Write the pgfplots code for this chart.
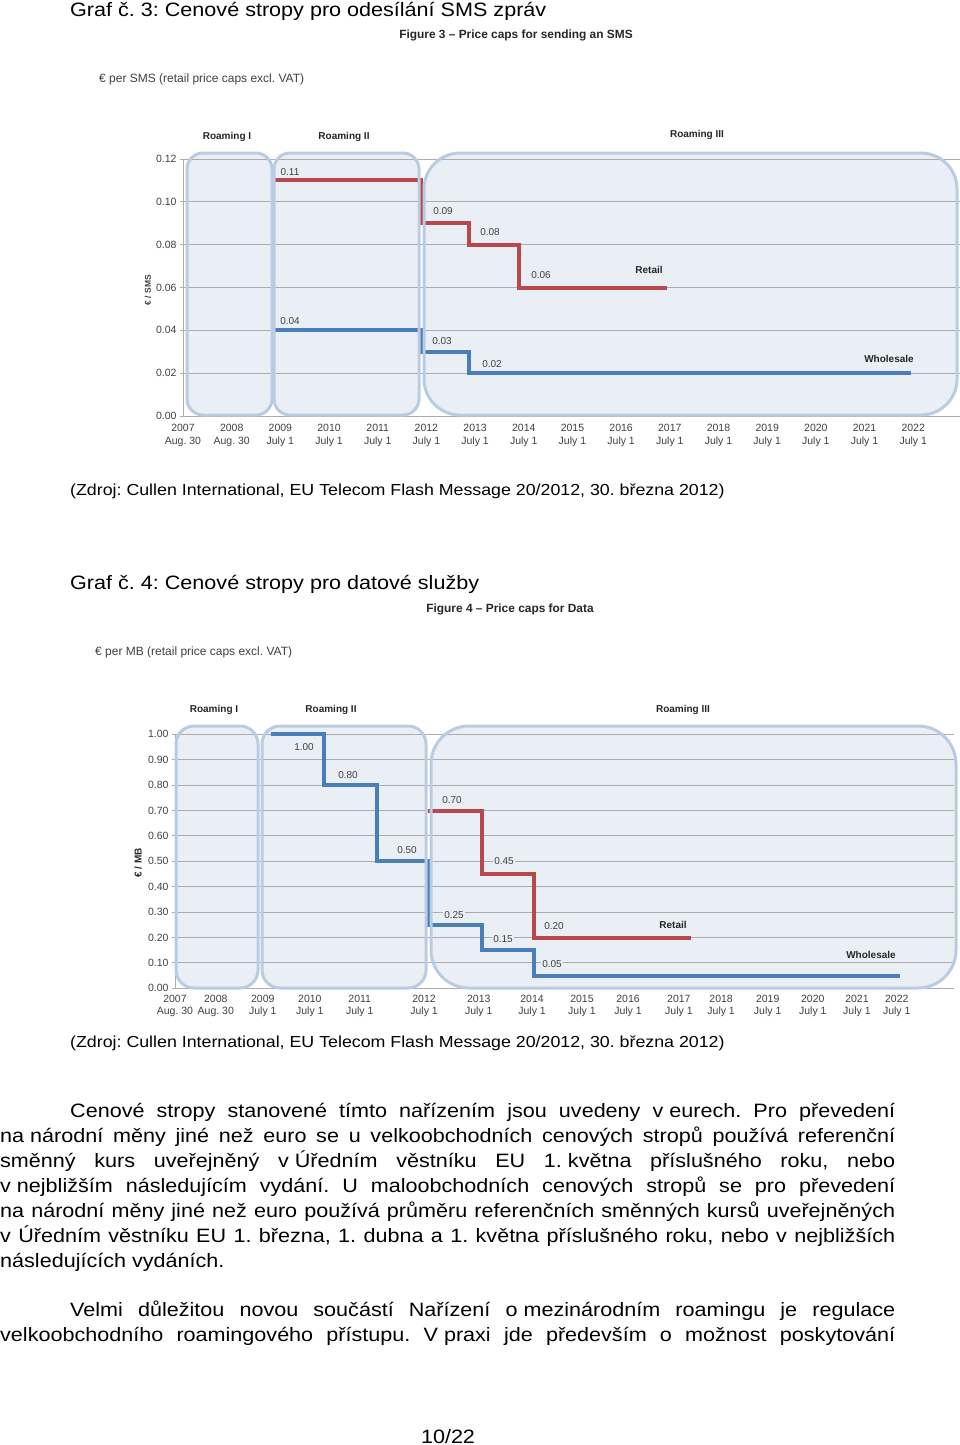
\documentclass[border=0pt]{standalone}
\usepackage{fontspec}
\setmainfont{Liberation Sans}
\newfontfamily\wide[FakeStretch=1.115]{Liberation Sans}
\usepackage{pgfplots}
\pgfplotsset{compat=1.18}
\frenchspacing
\definecolor{boxfill}{RGB}{234,239,246}
\definecolor{boxline}{RGB}{186,204,226}
\definecolor{retail}{RGB}{184,72,78}
\definecolor{whole}{RGB}{74,126,187}
\definecolor{gridc}{RGB}{172,172,172}
\definecolor{lbl}{RGB}{64,64,64}
\newcommand\fs[1]{\fontsize{#1}{#1}\selectfont}
\newcommand\body{\fontsize{19.35}{25}\selectfont}
\newcommand\jl[2]{\makebox[#1][s]{\wide #2}}
\pgfplotsset{capstyle/.style={scale only axis, anchor=south west, axis line style={draw=none},
  ymajorgrids, grid style={gridc, line width=1pt}, tick align=outside, major tick length=3pt,
  ytick style={gridc, line width=1pt}, xtick style={draw=none},
  yticklabel style={font=\fs{10.5}, text=lbl},
  xticklabel style={font=\fontsize{10.5}{12.5}\selectfont, align=center, text=lbl},
  clip=false, ymin=0}}
\tikzset{dl/.style={font=\fs{10}, text=lbl, inner sep=1pt, fill=boxfill},
  hd/.style={font=\bfseries\fs{10}, text=black!85, inner sep=0, anchor=base}}
\begin{document}
\begin{tikzpicture}[x=1pt,y=-1pt]
\useasboundingbox (0,0) rectangle (960,1445);
% ---------------- Chart 3 -----------------
\node[anchor=base west, inner sep=0, font=\wide\body] at (70,17) {Graf č. 3: Cenové stropy pro odesílání SMS zpráv};
\node[anchor=base, inner sep=0, font=\bfseries\fs{11.9}, text=black!85] at (516,39) {Figure 3 – Price caps for sending an SMS};
\node[anchor=base west, inner sep=0, font=\fs{12}, text=lbl] at (99,82) {€ per SMS (retail price caps excl. VAT)};
\node[hd] at (227,139) {Roaming I};
\node[hd] at (344,139) {Roaming II};
\node[hd] at (697,137) {Roaming III};
\fill[boxfill, rounded corners=16pt] (187,153) rectangle (272,415);
\fill[boxfill, rounded corners=16pt] (274,153) rectangle (419,415);
\fill[boxfill, rounded corners=36pt] (424,153) rectangle (957,415);
\begin{axis}[capstyle, at={(183pt,-416pt)}, width=775pt, height=257pt,
  xmin=0, xmax=15.92, ymax=0.12,
  xticklabel style={yshift=-2pt},
  ytick={0,0.02,0.04,0.06,0.08,0.10,0.12},
  yticklabels={0.00,0.02,0.04,0.06,0.08,0.10,0.12},
  xtick={0,...,15},
  xticklabels={{2007\\Aug. 30},{2008\\Aug. 30},{2009\\July 1},{2010\\July 1},{2011\\July 1},{2012\\July 1},{2013\\July 1},{2014\\July 1},{2015\\July 1},{2016\\July 1},{2017\\July 1},{2018\\July 1},{2019\\July 1},{2020\\July 1},{2021\\July 1},{2022\\July 1}}]
\draw[gridc, line width=1pt] (axis cs:0,0) -- (axis cs:0,0.12);
\addplot[retail, line width=4pt, const plot] coordinates {(1.89,0.11) (4.89,0.09) (5.88,0.08) (6.90,0.06) (9.94,0.06)};
\addplot[whole, line width=4pt, const plot] coordinates {(1.89,0.04) (4.89,0.03) (5.88,0.02) (14.96,0.02)};
\end{axis}
\draw[boxline, line width=3pt, rounded corners=16pt] (187,153) rectangle (272,415);
\draw[boxline, line width=3pt, rounded corners=16pt] (274,153) rectangle (419,415);
\draw[boxline, line width=3pt, rounded corners=36pt] (424,153) rectangle (957,415);
\node[font=\bfseries\fs{8.5}, text=lbl, rotate=90] at (148,290) {€ / SMS};
\node[dl] at (290,172) {0.11};
\node[dl] at (290,321) {0.04};
\node[dl] at (443,211) {0.09};
\node[dl] at (490,232) {0.08};
\node[dl] at (541,275) {0.06};
\node[dl] at (442,341) {0.03};
\node[dl] at (492,364) {0.02};
\node[dl, font=\bfseries\fs{10}, text=black!85] at (649,270) {Retail};
\node[dl, font=\bfseries\fs{10}, text=black!85] at (889,359) {Wholesale};
\node[anchor=base west, inner sep=0, font=\wide\fs{15.95}] at (70,495) {(Zdroj: Cullen International, EU Telecom Flash Message 20/2012, 30. března 2012)};
% ---------------- Chart 4 -----------------
\node[anchor=base west, inner sep=0, font=\wide\body] at (70,589) {Graf č. 4: Cenové stropy pro datové služby};
\node[anchor=base, inner sep=0, font=\bfseries\fs{11.9}, text=black!85] at (510,612) {Figure 4 – Price caps for Data};
\node[anchor=base west, inner sep=0, font=\fs{12}, text=lbl] at (95,655) {€ per MB (retail price caps excl. VAT)};
\node[hd] at (214,712) {Roaming I};
\node[hd] at (331,712) {Roaming II};
\node[hd] at (683,712) {Roaming III};
\fill[boxfill, rounded corners=18pt] (176,726) rectangle (258,988);
\fill[boxfill, rounded corners=18pt] (262,726) rectangle (426,988);
\fill[boxfill, rounded corners=38pt] (431,726) rectangle (956,988);
\begin{axis}[capstyle, at={(175pt,-988.3pt)}, width=776pt, height=254pt,
  xmin=0, xmax=16.17, ymax=1.0,
  ytick={0,0.1,0.2,0.3,0.4,0.5,0.6,0.7,0.8,0.9,1.0},
  yticklabels={0.00,0.10,0.20,0.30,0.40,0.50,0.60,0.70,0.80,0.90,1.00},
  xtick={0,0.85,1.83,2.81,3.85,5.19,6.33,7.44,8.48,9.44,10.5,11.38,12.35,13.29,14.21,15.04},
  xticklabels={{2007\\Aug. 30},{2008\\Aug. 30},{2009\\July 1},{2010\\July 1},{2011\\July 1},{2012\\July 1},{2013\\July 1},{2014\\July 1},{2015\\July 1},{2016\\July 1},{2017\\July 1},{2018\\July 1},{2019\\July 1},{2020\\July 1},{2021\\July 1},{2022\\July 1}}]
\draw[gridc, line width=1pt] (axis cs:0,0) -- (axis cs:0,1);
\addplot[whole, line width=4pt, const plot] coordinates {(2.01,1.00) (3.10,0.80) (4.21,0.50) (5.27,0.25) (6.40,0.15) (7.48,0.05) (15.10,0.05)};
\addplot[retail, line width=4pt, const plot] coordinates {(5.27,0.70) (6.40,0.45) (7.48,0.20) (10.75,0.20)};
\end{axis}
\draw[boxline, line width=3pt, rounded corners=18pt] (176,726) rectangle (258,988);
\draw[boxline, line width=3pt, rounded corners=18pt] (262,726) rectangle (426,988);
\draw[boxline, line width=3pt, rounded corners=38pt] (431,726) rectangle (956,988);
\node[font=\bfseries\fs{10}, text=black!85, rotate=90] at (138,863) {€ / MB};
\node[dl] at (304,747) {1.00};
\node[dl] at (348,775) {0.80};
\node[dl] at (407,850) {0.50};
\node[dl] at (454,915) {0.25};
\node[dl] at (452,800) {0.70};
\node[dl] at (504,861) {0.45};
\node[dl] at (503,939) {0.15};
\node[dl] at (554,926) {0.20};
\node[dl] at (552,964) {0.05};
\node[dl, font=\bfseries\fs{10}, text=black!85] at (673,925) {Retail};
\node[dl, font=\bfseries\fs{10}, text=black!85] at (871,955) {Wholesale};
\node[anchor=base west, inner sep=0, font=\wide\fs{15.95}] at (70,1047) {(Zdroj: Cullen International, EU Telecom Flash Message 20/2012, 30. března 2012)};
% ---------------- Body text -----------------
\begin{scope}[every node/.style={anchor=base west, inner sep=0, font=\body}]
\node at (70,1117) {\jl{825pt}{Cenové stropy stanovené tímto nařízením jsou uvedeny \mbox{v eurech.} Pro převedení}};
\node at (0,1142) {\jl{895pt}{\mbox{na národní} měny jiné než euro se u velkoobchodních cenových stropů používá referenční}};
\node at (0,1167) {\jl{895pt}{směnný kurs uveřejněný \mbox{v Úředním} věstníku EU \mbox{1. května} příslušného roku, nebo}};
\node at (0,1192) {\jl{895pt}{\mbox{v nejbližším} následujícím vydání. U maloobchodních cenových stropů se pro převedení}};
\node at (0,1217) {\jl{895pt}{na národní měny jiné než euro používá průměru referenčních směnných kursů uveřejněných}};
\node at (0,1242) {\jl{895pt}{v Úředním věstníku EU 1. března, 1. dubna a 1. května příslušného roku, nebo v nejbližších}};
\node at (0,1267) {\wide následujících vydáních.};
\node at (70,1316) {\jl{825pt}{Velmi důležitou novou součástí Nařízení \mbox{o mezinárodním} roamingu je regulace}};
\node at (0,1341) {\jl{895pt}{velkoobchodního roamingového přístupu. \mbox{V praxi} jde především o možnost poskytování}};
\end{scope}
\node[anchor=base, inner sep=0, font=\wide\body] at (448,1443) {10/22};
\end{tikzpicture}
\end{document}
